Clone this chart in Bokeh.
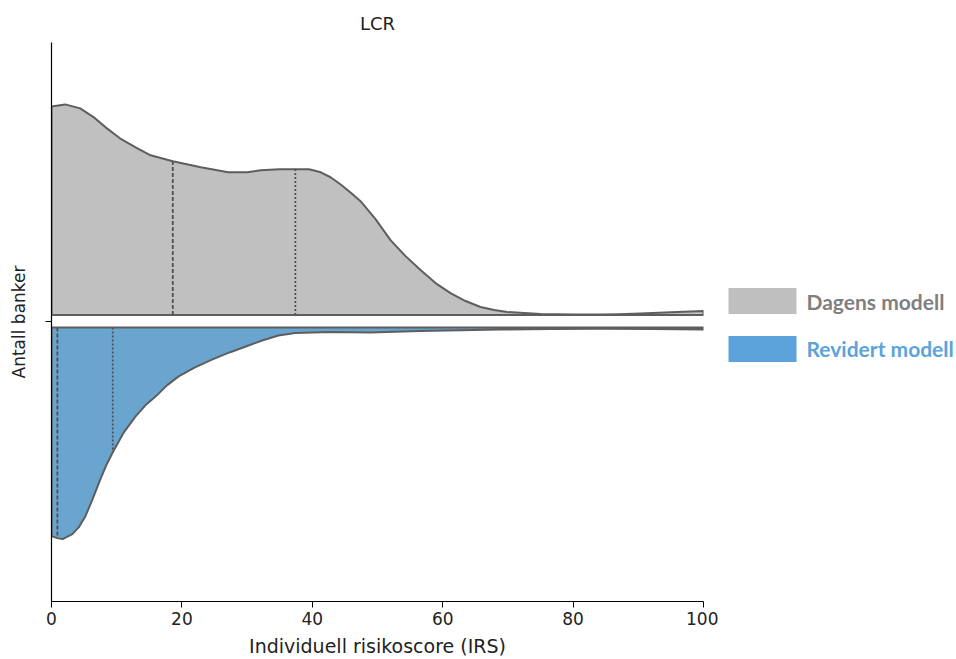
import numpy as np
from bokeh.plotting import figure
from bokeh.layouts import row
from bokeh.models import Range1d, FixedTicker
from bokeh.core.properties import value
from bokeh.embed import file_html
from bokeh.resources import INLINE

# ---- data ----
title_text = "LCR"
series_names = ["Dagens modell", "Revidert modell"]
x_ticks = [0, 20, 40, 60, 80, 100]

# Dagens modell: density profile along IRS (upper half of split violin)
dagens_x = [0, 2.1, 4.4, 6.5, 8.3, 10.5, 12.9, 15.2, 18.6, 22.9, 27.1, 30.0, 32.1,
            35.0, 37.4, 39.5, 41.3, 42.8, 44.3, 46.0, 47.4, 49.7, 52.0, 54.3,
            56.6, 58.9, 61.2, 63.5, 65.8, 67.9, 69.9, 72.5, 75.0, 80.0, 84.2,
            87.0, 90.3, 95.0, 100.0]
dagens_d = [2.09, 2.11, 2.07, 1.98, 1.88, 1.77, 1.68, 1.60, 1.54, 1.48, 1.43, 1.43, 1.45,
            1.46, 1.46, 1.46, 1.43, 1.38, 1.31, 1.22, 1.14, 0.96, 0.75, 0.59,
            0.45, 0.32, 0.22, 0.14, 0.08, 0.05, 0.03, 0.02, 0.01, 0.005, 0.005,
            0.008, 0.015, 0.028, 0.04]
dagens_median = 18.6
dagens_q3 = 37.4

# Revidert modell: density profile along IRS (lower half of split violin)
revidert_x = [0, 0.9, 1.7, 3.2, 4.2, 5.2, 6.3, 7.5, 8.4, 9.4, 11.1, 12.9, 14.4, 16.0,
              17.7, 19.5, 22.0, 24.7, 27.3, 29.8, 32.3, 34.8, 37.4, 40.0, 42.8,
              45.8, 48.9, 52.7, 56.6, 62.7, 68.9, 76.5, 84.2, 92.0, 100.0]
revidert_d = [2.09, 2.11, 2.12, 2.07, 2.00, 1.89, 1.72, 1.52, 1.38, 1.25, 1.05, 0.89, 0.78,
              0.69, 0.58, 0.49, 0.40, 0.32, 0.25, 0.19, 0.13, 0.08, 0.055, 0.05, 0.045,
              0.048, 0.05, 0.042, 0.035, 0.027, 0.02, 0.015, 0.012, 0.015, 0.02]
revidert_median = 0.9
revidert_q3 = 9.4

# ---- styles ----
GRAY_FILL = "#c0c0c0"
BLUE_FILL = "#69a5cf"
EDGE = "#5e5e5e"
GAP = 0.0625
FONT = "DejaVu Sans"
LEGEND_BOX = ["#bfbfbf", "#5ba3da"]
LEGEND_TEXT = ["#7f7f7f", "#5ba3da"]

p = figure(width=718, height=659, output_backend="svg", toolbar_location=None,
           x_range=Range1d(0, 100), y_range=Range1d(-2.8075, 2.7925),
           min_border_left=51, min_border_right=15, min_border_top=42,
           min_border_bottom=57, title=title_text)
p.outline_line_color = None
p.grid.visible = False
p.background_fill_color = "white"
p.border_fill_color = "white"

# upper (Dagens) polygon
dx = np.array(dagens_x, dtype=float)
dd = np.array(dagens_d, dtype=float)
px_up = np.concatenate([[dx[0]], dx, [dx[-1]]])
py_up = np.concatenate([[GAP], GAP + dd, [GAP]])
p.patch(px_up, py_up, fill_color=GRAY_FILL, line_color=EDGE, line_width=2,
        line_join="round")

# lower (Revidert) polygon
rx = np.array(revidert_x, dtype=float)
rd = np.array(revidert_d, dtype=float)
px_lo = np.concatenate([[rx[0]], rx, [rx[-1]]])
py_lo = np.concatenate([[-GAP], -GAP - rd, [-GAP]])
p.patch(px_lo, py_lo, fill_color=BLUE_FILL, line_color=EDGE, line_width=2,
        line_join="round")

# quartile lines
def vline(x, xs, ds, sign, dash):
    h = float(np.interp(x, xs, ds))
    p.segment(x0=[x], y0=[sign * GAP], x1=[x], y1=[sign * (GAP + h)],
              line_color="#505050", line_width=1.8, line_dash=dash)

vline(dagens_median, dx, dd, 1, "4 2")
vline(dagens_q3, dx, dd, 1, "2 2")
vline(revidert_median, rx, rd, -1, "4 2")
vline(revidert_q3, rx, rd, -1, "2 2")

# axes
p.xaxis.ticker = FixedTicker(ticks=x_ticks)
p.xaxis.axis_label = "Individuell risikoscore (IRS)"
p.yaxis.ticker = FixedTicker(ticks=[0])
p.yaxis.major_label_overrides = {0: ""}
p.yaxis.axis_label = "Antall banker"
for ax in (p.xaxis, p.yaxis):
    ax.minor_tick_line_color = None
    ax.major_tick_in = 0
    ax.major_tick_out = 6
    ax.axis_line_color = "black"
    ax.major_tick_line_color = "black"
    ax.axis_line_width = 1.2
    ax.major_label_text_font = FONT
    ax.axis_label_text_font = FONT
    ax.axis_label_text_font_style = "normal"
    ax.major_label_text_color = "#222222"
    ax.axis_label_text_color = "#222222"
p.xaxis.major_label_text_font_size = "17px"
p.xaxis.axis_label_text_font_size = "19px"
p.xaxis.major_label_standoff = 4
p.xaxis.axis_label_standoff = 7
p.yaxis.axis_label_text_font_size = "17px"
p.yaxis.major_label_standoff = 2
p.yaxis.axis_label_standoff = 17

p.title.align = "center"
p.title.text_font = FONT
p.title.text_font_size = "18px"
p.title.text_font_style = "normal"
p.title.text_color = "#222222"
p.title.standoff = 17

# legend panel (separate figure so each label keeps its own colour);
# its frame is aligned with the main frame (canvas y 42..602)
leg = figure(width=238, height=659, output_backend="svg", toolbar_location=None,
             x_range=Range1d(0, 238), y_range=Range1d(602, 42),
             x_axis_location=None, y_axis_location=None,
             min_border_left=0, min_border_right=0, min_border_top=42,
             min_border_bottom=57, outline_line_color=None)
leg.grid.visible = False
box_top = [288, 336]
leg.quad(left=[10, 10], right=[78, 78], top=box_top, bottom=[b + 26 for b in box_top],
         fill_color=LEGEND_BOX, line_color=None)
leg.text(x=[88, 88], y=[b + 13 for b in box_top], text=series_names,
         text_color=LEGEND_TEXT, text_font=value("Lato"), text_font_style="bold",
         text_font_size="21px", text_baseline="middle", text_align="left")

layout = row(p, leg)
open("out.html", "w").write(file_html(layout, INLINE))
